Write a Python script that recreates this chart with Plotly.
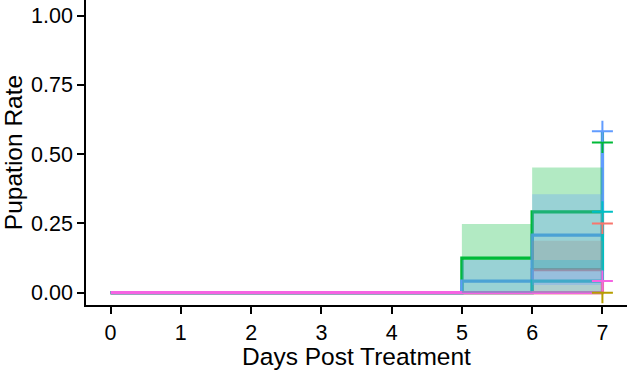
import plotly.graph_objects as go

# ---- data ----
days = [0, 5, 6, 7]               # step change points
ci_days = [5, 6, 7]               # intervals where confidence bands are visible

groups = ["Group 1", "Group 2", "Group 3", "Group 4", "Group 5", "Group 6"]
colors = ["#F8766D", "#B79F00", "#00BA38", "#00BFC4", "#619CFF", "#F564E3"]

rate_g1 = [0, 0, 0.083, 0.250]
rate_g2 = [0, 0, 0.000, 0.000]
rate_g3 = [0, 0.125, 0.292, 0.542]
rate_g4 = [0, 0, 0.042, 0.292]
rate_g5 = [0, 0.042, 0.208, 0.583]
rate_g6 = [0, 0, 0.000, 0.042]

low_g1 = [0, 0, 0]
up_g1 = [0, 0.188, 0.188]
low_g2 = [0, 0, 0]
up_g2 = [0, 0, 0]
low_g3 = [0, 0.084, 0.084]
up_g3 = [0.248, 0.452, 0.452]
low_g4 = [0, 0, 0]
up_g4 = [0, 0.118, 0.118]
low_g5 = [0, 0.028, 0.028]
up_g5 = [0.118, 0.355, 0.355]
low_g6 = [0, 0, 0]
up_g6 = [0, 0, 0]

rates = [rate_g1, rate_g2, rate_g3, rate_g4, rate_g5, rate_g6]
lows = [low_g1, low_g2, low_g3, low_g4, low_g5, low_g6]
ups = [up_g1, up_g2, up_g3, up_g4, up_g5, up_g6]

x_ticks = [0, 1, 2, 3, 4, 5, 6, 7]
y_ticks = [0, 0.25, 0.5, 0.75, 1.0]
y_ticklabels = ["0.00", "0.25", "0.50", "0.75", "1.00"]


def rgba(hexc, a):
    h = hexc.lstrip("#")
    r, g, b = int(h[0:2], 16), int(h[2:4], 16), int(h[4:6], 16)
    return f"rgba({r},{g},{b},{a})"


fig = go.Figure()

# step lines (drawing order chosen to match overlaps)
order = [0, 1, 2, 4, 3, 5]
for i in order:
    fig.add_trace(go.Scatter(x=days, y=rates[i], mode="lines", name=groups[i],
                             line=dict(color=colors[i], width=3.3, shape="hv"),
                             showlegend=False))

# confidence bands drawn over the steps
for name, col, lo, up in zip(groups, colors, lows, ups):
    fig.add_trace(go.Scatter(x=ci_days, y=lo, mode="lines", line=dict(width=0, shape="hv"),
                             showlegend=False, hoverinfo="skip"))
    fig.add_trace(go.Scatter(x=ci_days, y=up, mode="lines", line=dict(width=0, shape="hv"),
                             fill="tonexty", fillcolor=rgba(col, 0.3),
                             showlegend=False, hoverinfo="skip"))

# censoring marks at the last day
for i in order:
    fig.add_trace(go.Scatter(x=[days[-1]], y=[rates[i][-1]], mode="markers",
                             marker=dict(symbol="cross-thin", size=15,
                                         line=dict(color=colors[i], width=2)),
                             showlegend=False))

font_family = "Liberation Sans, Arial, sans-serif"
fig.update_layout(
    width=630, height=370,
    margin=dict(l=86, r=3, t=0, b=65),
    plot_bgcolor="white", paper_bgcolor="white",
    font=dict(family=font_family, color="black"),
    xaxis=dict(range=[-0.35, 7.35], tickvals=x_ticks, showgrid=False, zeroline=False,
               showline=True, linecolor="black", linewidth=1.5,
               ticks="outside", ticklen=7, tickwidth=1.5, tickcolor="black",
               tickfont=dict(size=21.5, color="black"),
               title=dict(text="Days Post Treatment", font=dict(size=24.5), standoff=6)),
    yaxis=dict(range=[-0.0444, 1.0567], tickvals=y_ticks, ticktext=y_ticklabels,
               showgrid=False, zeroline=False,
               showline=True, linecolor="black", linewidth=1.5,
               ticks="outside", ticklen=7, tickwidth=1.5, tickcolor="black",
               tickfont=dict(size=21.5, color="black"),
               title=dict(text="Pupation Rate", font=dict(size=24.5), standoff=10)),
)

fig.write_html("out.html")
